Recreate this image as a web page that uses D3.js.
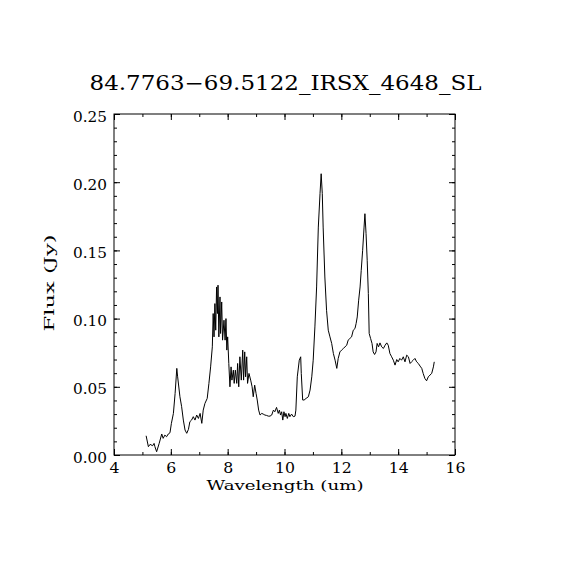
<!DOCTYPE html>
<html>
<head>
<meta charset="utf-8">
<script src="https://cdn.jsdelivr.net/npm/d3@7"></script>
<style>
  body { margin: 0; background: #fff; }
  text { font-family: "DejaVu Serif", "Liberation Serif", serif; fill: #000; }
</style>
</head>
<body>
<div id="chart"></div>
<script>
// Chart text
var title = "84.7763\u221269.5122_IRSX_4648_SL";
var xLabel = "Wavelength (um)";
var yLabel = "Flux (Jy)";

// Tick values
var xTicks = [4, 6, 8, 10, 12, 14, 16];
var yTicks = [0.00, 0.05, 0.10, 0.15, 0.20, 0.25];

// Spectrum
var wavelength = [
  5.13, 5.21, 5.27, 5.36, 5.41, 5.44, 5.50, 5.59, 5.68, 5.73, 5.79, 5.85, 5.91, 5.97,
  6.02, 6.09, 6.15, 6.21, 6.24, 6.32, 6.38, 6.44, 6.50, 6.56, 6.62, 6.67, 6.73, 6.79,
  6.85, 6.91, 6.97, 7.03, 7.09, 7.14, 7.20, 7.28, 7.34, 7.40, 7.46, 7.49, 7.52, 7.55,
  7.58, 7.61, 7.64, 7.66, 7.69, 7.73, 7.75, 7.79, 7.82, 7.87, 7.91, 7.94, 7.97, 8.00,
  8.04, 8.08, 8.12, 8.15, 8.20, 8.23, 8.27, 8.32, 8.35, 8.39, 8.43, 8.48, 8.53, 8.56,
  8.60, 8.63, 8.67, 8.70, 8.75, 8.81, 8.86, 8.90, 8.95, 9.00, 9.04, 9.09, 9.14, 9.20,
  9.25, 9.31, 9.37, 9.43, 9.49, 9.55, 9.61, 9.66, 9.72, 9.78, 9.82, 9.86, 9.90, 9.94,
  9.98, 10.02, 10.05, 10.10, 10.15, 10.19, 10.25, 10.31, 10.37, 10.40, 10.45, 10.52,
  10.57, 10.59, 10.64, 10.69, 10.76, 10.84, 10.90, 10.96, 11.01, 11.07, 11.13, 11.19,
  11.25, 11.29, 11.33, 11.36, 11.42, 11.48, 11.54, 11.60, 11.66, 11.72, 11.78, 11.84,
  11.89, 11.95, 12.01, 12.07, 12.13, 12.19, 12.24, 12.30, 12.36, 12.42, 12.48, 12.52,
  12.56, 12.61, 12.66, 12.70, 12.75, 12.80, 12.83, 12.87, 12.91, 12.95, 12.98, 13.03,
  13.08, 13.12, 13.17, 13.22, 13.26, 13.31, 13.36, 13.42, 13.48, 13.54, 13.60, 13.65,
  13.71, 13.77, 13.83, 13.89, 13.95, 14.00, 14.06, 14.12, 14.18, 14.24, 14.30, 14.36,
  14.42, 14.47, 14.53, 14.59, 14.65, 14.71, 14.77, 14.83, 14.88, 14.94, 15.00, 15.06,
  15.12, 15.18, 15.24, 15.27
];
var flux = [
  0.0141, 0.0061, 0.0078, 0.0068, 0.0085, 0.0061, 0.0024, 0.0085, 0.0154, 0.0122, 0.0146, 0.0134, 0.0154, 0.0163,
  0.0232, 0.0305, 0.0451, 0.0635, 0.0573, 0.0427, 0.0354, 0.0256, 0.0183, 0.0159, 0.0188, 0.0244, 0.0256, 0.0281,
  0.0256, 0.0293, 0.0268, 0.0305, 0.0232, 0.0329, 0.0378, 0.0415, 0.0525, 0.0646, 0.0793, 0.1037, 0.0866, 0.1110,
  0.0915, 0.1232, 0.1037, 0.1245, 0.0866, 0.1159, 0.0891, 0.1122, 0.0842, 0.0988, 0.0842, 0.1000, 0.0769, 0.0866,
  0.0671, 0.0500, 0.0646, 0.0549, 0.0622, 0.0525, 0.0622, 0.0525, 0.0671, 0.0500, 0.0720, 0.0549, 0.0769, 0.0549,
  0.0756, 0.0573, 0.0720, 0.0525, 0.0598, 0.0549, 0.0500, 0.0427, 0.0512, 0.0451, 0.0403, 0.0329, 0.0293, 0.0305,
  0.0300, 0.0293, 0.0290, 0.0285, 0.0285, 0.0293, 0.0329, 0.0317, 0.0349, 0.0305, 0.0329, 0.0293, 0.0317, 0.0256,
  0.0317, 0.0281, 0.0305, 0.0268, 0.0305, 0.0281, 0.0300, 0.0281, 0.0285, 0.0329, 0.0573, 0.0695,
  0.0720, 0.0598, 0.0403, 0.0403, 0.0415, 0.0427, 0.0476, 0.0573, 0.0695, 0.0939, 0.1232, 0.1671,
  0.1916, 0.2062, 0.1916, 0.1671, 0.1305, 0.1061, 0.0915, 0.0866, 0.0818, 0.0744, 0.0695, 0.0635,
  0.0708, 0.0756, 0.0769, 0.0781, 0.0793, 0.0805, 0.0842, 0.0854, 0.0866, 0.0915, 0.0927, 0.0964,
  0.1012, 0.1135, 0.1232, 0.1354, 0.1501, 0.1671, 0.1769, 0.1623, 0.1428, 0.1184, 0.0891, 0.0854,
  0.0818, 0.0756, 0.0737, 0.0756, 0.0818, 0.0793, 0.0822, 0.0793, 0.0781, 0.0805, 0.0822, 0.0805,
  0.0744, 0.0720, 0.0695, 0.0659, 0.0700, 0.0683, 0.0708, 0.0695, 0.0720, 0.0683, 0.0732, 0.0720,
  0.0671, 0.0683, 0.0695, 0.0708, 0.0683, 0.0671, 0.0652, 0.0635, 0.0598, 0.0561, 0.0544, 0.0573,
  0.0586, 0.0598, 0.0646, 0.0683
];

var svgWidth = 570;
var svgHeight = 570;
var margin = { top: 114, right: 115, bottom: 115, left: 114 };
var width = svgWidth - margin.left - margin.right;
var height = svgHeight - margin.top - margin.bottom;

var svg = d3.select("#chart")
  .append("svg")
  .attr("width", svgWidth)
  .attr("height", svgHeight);

var chartGroup = svg.append("g")
  .attr("transform", `translate(${margin.left}, ${margin.top})`);

var xScale = d3.scaleLinear().domain([4, 16]).range([0, width]);
var yScale = d3.scaleLinear().domain([0, 0.25]).range([height, 0]);

// minor ticks: x every 1 unit, y every 0.01
var xMinor = d3.range(4, 16.01, 1);
var yMinor = d3.range(0, 0.2501, 0.01);

// inward ticks on all four sides, like the IDL plot
function styleAxis(g) {
  g.select(".domain").remove();
  g.selectAll("line").attr("stroke", "#000").attr("stroke-width", 1);
}

chartGroup.append("g")
  .attr("transform", `translate(0, ${height})`)
  .call(d3.axisBottom(xScale).tickValues(xMinor).tickSize(-3).tickFormat(""))
  .call(styleAxis);
chartGroup.append("g")
  .attr("transform", `translate(0, ${height})`)
  .call(d3.axisBottom(xScale).tickValues(xTicks).tickSize(-6).tickFormat(d3.format("d")))
  .call(styleAxis)
  .selectAll("text")
  .attr("font-size", "14px")
  .attr("dy", null)
  .attr("y", 18)
  .attr("textLength", d => String(d).length * 10)
  .attr("lengthAdjust", "spacingAndGlyphs");

chartGroup.append("g")
  .call(d3.axisTop(xScale).tickValues(xMinor).tickSize(-3).tickFormat(""))
  .call(styleAxis);
chartGroup.append("g")
  .call(d3.axisTop(xScale).tickValues(xTicks).tickSize(-6).tickFormat(""))
  .call(styleAxis);

chartGroup.append("g")
  .call(d3.axisLeft(yScale).tickValues(yMinor).tickSize(-3).tickFormat(""))
  .call(styleAxis);
chartGroup.append("g")
  .call(d3.axisLeft(yScale).tickValues(yTicks).tickSize(-6).tickFormat(d3.format(".2f")))
  .call(styleAxis)
  .selectAll("text")
  .attr("font-size", "14px")
  .attr("x", -7)
  .attr("dy", null)
  .attr("y", 7)
  .attr("textLength", 34)
  .attr("lengthAdjust", "spacingAndGlyphs");

chartGroup.append("g")
  .attr("transform", `translate(${width}, 0)`)
  .call(d3.axisRight(yScale).tickValues(yMinor).tickSize(-3).tickFormat(""))
  .call(styleAxis);
chartGroup.append("g")
  .attr("transform", `translate(${width}, 0)`)
  .call(d3.axisRight(yScale).tickValues(yTicks).tickSize(-6).tickFormat(""))
  .call(styleAxis);

// plot frame
chartGroup.append("rect")
  .attr("width", width)
  .attr("height", height)
  .attr("fill", "none")
  .attr("stroke", "#000")
  .attr("stroke-width", 1);

// spectrum
var line = d3.line()
  .x((d, i) => xScale(wavelength[i]))
  .y(d => yScale(d));

chartGroup.append("path")
  .datum(flux)
  .attr("d", line)
  .attr("fill", "none")
  .attr("stroke", "#000")
  .attr("stroke-width", 1);

// labels
svg.append("text")
  .attr("x", 285.5)
  .attr("y", 90)
  .attr("text-anchor", "middle")
  .attr("font-size", "20.5px")
  .attr("textLength", 392)
  .attr("lengthAdjust", "spacingAndGlyphs")
  .text(title);

svg.append("text")
  .attr("x", 285)
  .attr("y", 490)
  .attr("text-anchor", "middle")
  .attr("font-size", "13px")
  .attr("textLength", 157)
  .attr("lengthAdjust", "spacingAndGlyphs")
  .text(xLabel);

svg.append("text")
  .attr("transform", "translate(54, 283) rotate(-90)")
  .attr("text-anchor", "middle")
  .attr("font-size", "13px")
  .attr("textLength", 97)
  .attr("lengthAdjust", "spacingAndGlyphs")
  .text(yLabel);
</script>
</body>
</html>
